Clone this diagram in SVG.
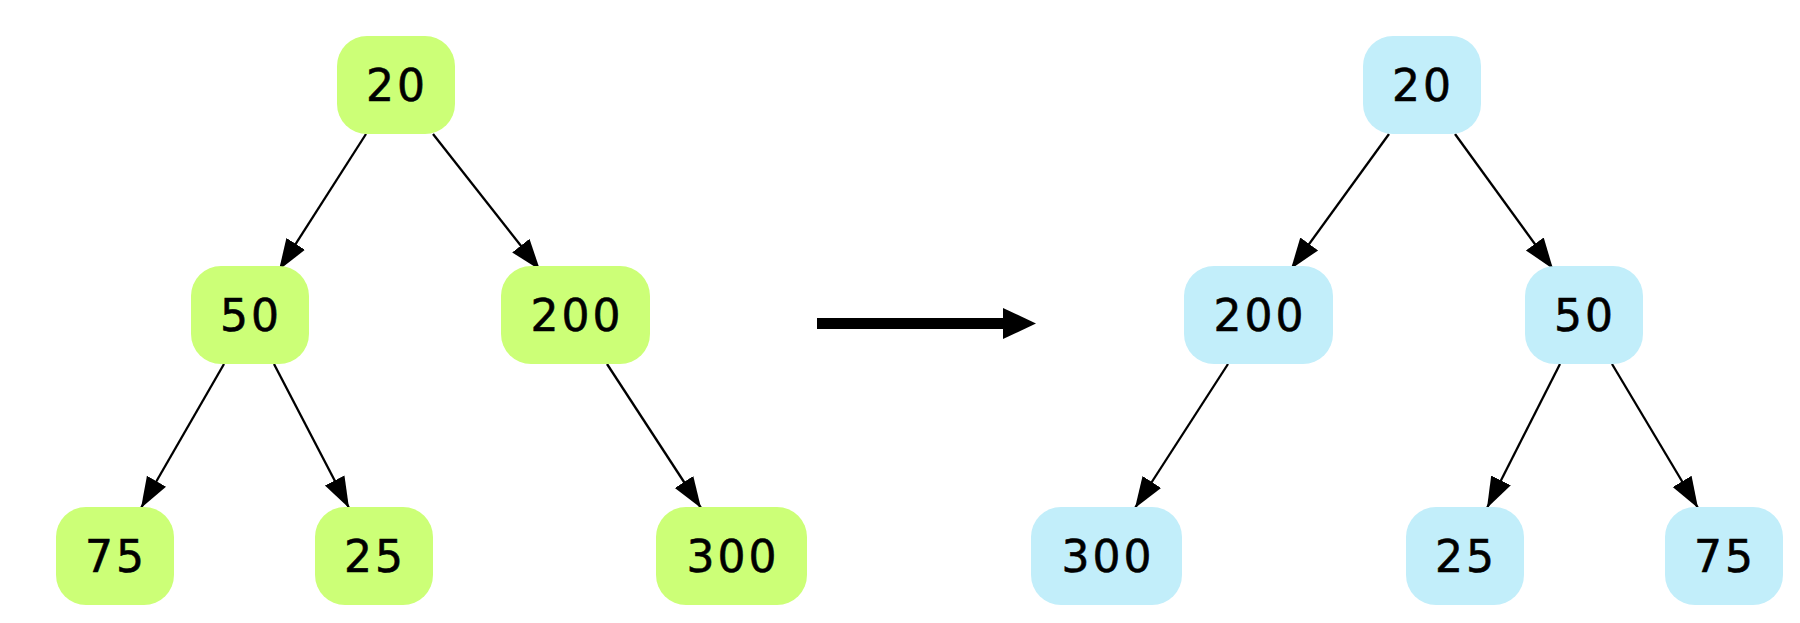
<svg xmlns="http://www.w3.org/2000/svg" width="1800" height="623" viewBox="0 0 1800 623">
<style>
.g rect{fill:#ccff77}
.b rect{fill:#c2eefa}
text{font-family:"DejaVu Sans","Liberation Sans",sans-serif;font-size:44px;fill:#000;stroke:#000;stroke-width:0.6;text-anchor:middle;letter-spacing:3px}
.e line{stroke:#000;stroke-width:2.3;marker-end:url(#ah)}
</style>
<defs>
<marker id="ah" markerUnits="userSpaceOnUse" markerWidth="32" markerHeight="24" refX="31" refY="12" orient="auto" viewBox="0 0 32 24">
<path d="M0,1 L31,12 L0,23 z" fill="#000"/>
</marker>
</defs>
<rect width="1800" height="623" fill="#fff"/>
<g class="e" id="connectors">
<line x1="366" y1="134" x2="279" y2="270"/>
<line x1="433" y1="134" x2="540" y2="270"/>
<line x1="224" y1="364" x2="141" y2="508"/>
<line x1="274" y1="364" x2="349" y2="508"/>
<line x1="607" y1="364" x2="701" y2="508"/>
<line x1="1389" y1="134" x2="1291" y2="269"/>
<line x1="1455" y1="134" x2="1553" y2="269"/>
<line x1="1228" y1="364" x2="1135" y2="508"/>
<line x1="1560" y1="364" x2="1487" y2="508"/>
<line x1="1612" y1="364" x2="1698" y2="508"/>
</g>
<g id="transform-arrow">
<rect x="817" y="318" width="190" height="11" fill="#000"/>
<path d="M1003,308 L1036,323.5 L1003,339 z" fill="#000"/>
</g>
<g id="L20" class="g"><rect x="337" y="36" width="118" height="98" rx="30"/><text x="397" y="101">20</text></g>
<g id="L50" class="g"><rect x="191" y="266" width="118" height="98" rx="30"/><text x="251" y="331">50</text></g>
<g id="L200" class="g"><rect x="501" y="266" width="149" height="98" rx="30"/><text x="577" y="331">200</text></g>
<g id="L75" class="g"><rect x="56" y="507" width="118" height="98" rx="30"/><text x="116" y="572">75</text></g>
<g id="L25" class="g"><rect x="315" y="507" width="118" height="98" rx="30"/><text x="375" y="572">25</text></g>
<g id="L300" class="g"><rect x="656" y="507" width="151" height="98" rx="30"/><text x="733" y="572">300</text></g>
<g id="R20" class="b"><rect x="1363" y="36" width="118" height="98" rx="30"/><text x="1423" y="101">20</text></g>
<g id="R200" class="b"><rect x="1184" y="266" width="149" height="98" rx="30"/><text x="1260" y="331">200</text></g>
<g id="R50" class="b"><rect x="1525" y="266" width="118" height="98" rx="30"/><text x="1585" y="331">50</text></g>
<g id="R300" class="b"><rect x="1031" y="507" width="151" height="98" rx="30"/><text x="1108" y="572">300</text></g>
<g id="R25" class="b"><rect x="1406" y="507" width="118" height="98" rx="30"/><text x="1466" y="572">25</text></g>
<g id="R75" class="b"><rect x="1665" y="507" width="118" height="98" rx="30"/><text x="1725" y="572">75</text></g>
</svg>
